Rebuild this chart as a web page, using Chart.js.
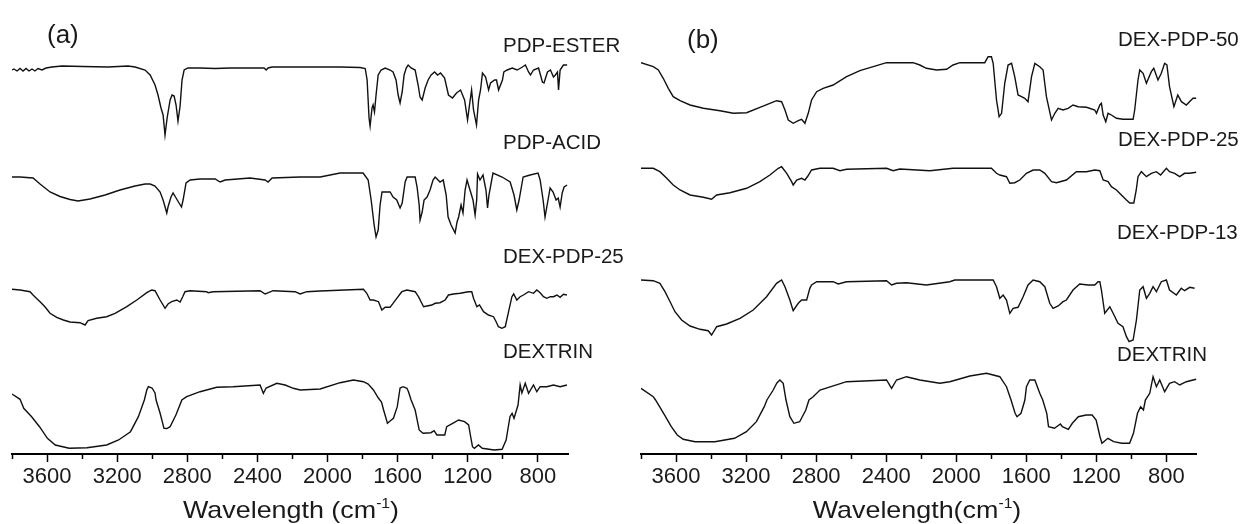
<!DOCTYPE html>
<html>
<head>
<meta charset="utf-8">
<script src="https://cdn.jsdelivr.net/npm/chart.js@4.4.1/dist/chart.umd.min.js"></script>
<style>
  html, body { margin:0; padding:0; background:#fff; }
  #page { position:relative; width:1243px; height:524px; overflow:hidden; font-family:"Liberation Sans", Arial, sans-serif; color:#1a1a1a; }
  .box { position:absolute; top:0; height:524px; }
  .lbl { position:absolute; font-size:20.5px; line-height:20px; white-space:nowrap; }
  .panel { position:absolute; font-size:26px; line-height:26px; }
  .xtitle { position:absolute; top:498px; font-size:24px; line-height:24px; white-space:nowrap; transform:translateX(-50%) scaleX(1.12); }
  .xtitle span { font-size:14px; position:relative; top:-10px; }
</style>
</head>
<body>
<div id="page">
  <div class="box" id="boxA" style="left:0;width:620px"><canvas id="graphA"></canvas></div>
  <div class="box" id="boxB" style="left:629px;width:614px"><canvas id="graphB"></canvas></div>

  <div class="panel" style="left:47px;top:21px">(a)</div>
  <div class="panel" style="left:687px;top:26px">(b)</div>

  <div class="lbl" style="left:503px;top:35px">PDP-ESTER</div>
  <div class="lbl" style="left:503px;top:132px">PDP-ACID</div>
  <div class="lbl" style="left:503px;top:246px">DEX-PDP-25</div>
  <div class="lbl" style="left:503px;top:341px">DEXTRIN</div>

  <div class="lbl" style="left:1118px;top:29px">DEX-PDP-50</div>
  <div class="lbl" style="left:1118px;top:129px">DEX-PDP-25</div>
  <div class="lbl" style="left:1117px;top:222px">DEX-PDP-13</div>
  <div class="lbl" style="left:1117px;top:344px">DEXTRIN</div>

  <div class="xtitle" style="left:291px">Wavelength (cm<span>-1</span>)</div>
  <div class="xtitle" style="left:917px">Wavelength(cm<span>-1</span>)</div>
</div>
<script>
// wavenumber (cm-1), transmittance (a.u., offset spectra)
const pdpEster = [[3800,384],[3789,385],[3771,383],[3754,385.5],[3737,383],[3720,385.5],[3703,383],[3686,385],[3669,383],[3652,385.5],[3629,384],[3606,386],[3572,387],[3515,388],[3395,387.5],[3252,387],[3138,388],[3098,387],[3041,384],[3012,379],[2984,369],[2967,359],[2950,346],[2938,339],[2927,319],[2915,336],[2898,354],[2887,359],[2875,358],[2864,349],[2853,333],[2841,348],[2830,374],[2818,384],[2796,386],[2727,386],[2641,385.5],[2556,386],[2362,386],[2350,384],[2339,386],[2316,387],[2156,387],[1928,387],[1814,386.5],[1785,385.5],[1774,374],[1763,336],[1757,328],[1746,346],[1740,349],[1732,342],[1723,359],[1711,379],[1694,384],[1671,386],[1643,384],[1626,382],[1609,374],[1597,359],[1586,351],[1574,362],[1563,379],[1551,386],[1540,389],[1523,386],[1500,384],[1483,369],[1472,357],[1460,354],[1443,366],[1426,374],[1409,379],[1389,382],[1372,379],[1355,381],[1332,376],[1310,359],[1287,356],[1264,361],[1241,364],[1218,354],[1201,334],[1190,349],[1178,364],[1167,344],[1150,329],[1138,354],[1127,364],[1116,381],[1098,377],[1081,364],[1070,371],[1047,374],[1036,374],[1024,364],[1002,374],[994,382],[975,384],[946,386],[918,384],[888,387],[871,389],[853,382],[842,379],[825,384],[796,386],[785,379],[774,372],[765,371],[745,382],[728,384],[711,377],[700,379],[688,382],[682,364],[673,384],[654,389],[633,389]];

const pdpAcid = [[3800,277],[3754,277],[3680,276],[3640,270],[3583,262],[3526,257.5],[3469,254.5],[3423,253],[3355,255],[3269,259],[3184,264],[3098,268],[3041,270],[3012,270],[2984,268],[2955,262],[2938,254],[2917,241],[2910,247],[2893,257],[2881,261],[2864,256],[2847,251],[2833,247],[2824,254],[2807,271],[2784,274],[2727,275],[2641,275],[2613,272],[2584,274],[2442,276],[2356,274],[2339,272],[2316,276],[2156,277],[2042,277],[1928,281],[1797,281],[1768,274],[1751,254],[1734,229],[1723,217],[1711,224],[1700,249],[1689,262],[1643,262],[1626,257],[1605,254],[1586,246],[1574,251],[1557,272],[1546,277],[1500,277],[1489,267],[1477,249],[1472,234],[1460,242],[1449,254],[1432,257],[1415,264],[1398,274],[1386,277],[1358,272],[1340,274],[1323,259],[1312,237],[1295,229],[1272,221],[1261,232],[1252,237],[1238,249],[1227,241],[1215,264],[1204,274],[1187,264],[1170,254],[1158,239],[1149,254],[1144,280],[1130,274],[1113,279],[1096,264],[1087,246],[1079,259],[1056,281],[1004,277],[958,272],[936,259],[920,244],[907,254],[884,277],[844,279],[799,281],[787,274],[770,254],[759,237],[747,249],[730,266],[713,262],[696,254],[684,256],[673,247],[661,261],[650,267],[633,269]];

const dexPdp25a = [[3800,164.7],[3754,164],[3697,162.3],[3680,159],[3640,152.3],[3612,147.3],[3583,140.7],[3545,136.7],[3507,134],[3469,132],[3412,131.3],[3383,129],[3366,133.3],[3317,135.7],[3260,137.3],[3212,140.7],[3145,147.3],[3088,154],[3031,161.3],[3003,164],[2984,163.3],[2955,154],[2927,145.7],[2910,150],[2889,152.3],[2860,154],[2841,152],[2826,157.3],[2813,162.3],[2784,163.3],[2689,162.3],[2681,161.3],[2653,162.3],[2385,163.3],[2356,160],[2337,161.3],[2310,163.3],[2185,162.3],[2156,160],[2118,162.3],[2042,163],[1795,164.7],[1776,160.7],[1757,154],[1738,154],[1709,152.3],[1690,144],[1671,146.7],[1643,146.7],[1605,155.7],[1576,162.3],[1547,164],[1500,162.3],[1481,157.3],[1462,150.7],[1452,147.3],[1433,148],[1405,149],[1386,150.7],[1358,151.3],[1329,154],[1310,159],[1281,160],[1243,160.7],[1196,162.3],[1177,162.3],[1167,155.7],[1148,147.3],[1133,149],[1110,142.3],[1082,139],[1053,137.3],[1038,132.3],[1025,127.3],[1005,125.7],[986,127.3],[967,142.3],[948,157.3],[938,160],[920,154],[901,157.3],[882,159],[853,162.3],[825,160.7],[806,164],[787,161.3],[768,157.3],[749,155.7],[729,157.3],[711,157.3],[691,159],[673,156.7],[654,159.7],[634,159]];

const dextrinA = [[3800,60],[3754,54.7],[3733,45.7],[3688,37.3],[3643,27.3],[3598,15.7],[3553,9],[3474,5.7],[3372,6.3],[3260,9],[3192,14],[3124,22.3],[3079,37.3],[3045,54],[3031,64],[3022,67.3],[3001,66],[2984,61],[2978,54],[2955,40.7],[2933,25.7],[2916,25.5],[2898,27.3],[2865,39],[2831,54],[2803,57.3],[2727,62.3],[2632,66.7],[2539,67.3],[2385,69],[2366,60.7],[2350,66],[2289,70.7],[2242,69],[2195,65.7],[2156,64],[2042,65],[1928,71.3],[1852,74],[1795,72.3],[1768,70],[1738,64],[1710,56],[1692,52],[1680,44],[1658,30.7],[1643,33],[1624,35.7],[1602,47.3],[1586,66],[1569,67.3],[1547,65.7],[1538,62.3],[1523,54],[1500,44],[1477,24],[1455,20.7],[1410,21.3],[1392,23.3],[1376,19],[1331,19],[1320,27.3],[1286,30.7],[1252,34],[1218,32.3],[1195,29],[1183,17],[1173,7.3],[1162,5.7],[1139,9],[1117,5.7],[1049,4],[1004,4.7],[981,14],[959,37.3],[947,40.7],[936,35.7],[913,49],[901,69],[891,61],[872,70.7],[853,60.7],[825,69],[806,62.3],[787,67.3],[749,67.3],[711,69],[673,67.3],[634,69]];

const dexPdp50 = [[3800,391.3],[3730,387.3],[3701,384],[3673,375.7],[3644,365.7],[3616,357.3],[3577,353.3],[3520,349],[3444,345.7],[3349,343.3],[3273,340.7],[3197,341.3],[3121,346.7],[3064,350.7],[3026,353.3],[2997,352.3],[2978,344],[2959,334],[2931,330.7],[2902,333.3],[2883,334.7],[2864,330.7],[2845,340.7],[2826,354],[2797,362.3],[2760,365.7],[2703,369],[2626,377.3],[2550,383.3],[2474,387.3],[2398,391.3],[2246,391.3],[2208,389],[2170,385.7],[2112,384],[2055,384.7],[2018,389],[1979,391.3],[1837,391.3],[1818,397.3],[1799,397.3],[1789,390.7],[1770,354],[1755,337.3],[1741,340.7],[1723,370.7],[1704,389],[1684,390.7],[1666,377.3],[1647,359],[1627,357.3],[1609,355.7],[1590,352.3],[1570,377.3],[1551,390.7],[1523,387.3],[1504,384],[1485,357.3],[1456,334],[1437,340.7],[1418,345.7],[1390,344],[1361,345.7],[1333,349],[1304,347.3],[1256,346.7],[1209,344],[1199,340.7],[1180,349],[1171,350.7],[1161,339],[1146,332.3],[1133,340.7],[1114,339],[1085,335.7],[1048,334.7],[990,334.7],[981,344],[962,374],[952,384],[933,380.7],[914,370.7],[886,382.3],[872,385.7],[848,374],[829,380.7],[810,390.7],[797,389],[782,367.3],[757,347.3],[735,359],[714,352.3],[686,349],[668,352.3],[648,355.7],[629,355.7]];

const dexPdp25b = [[3800,285.7],[3730,285.7],[3692,282.3],[3653,275.7],[3616,269],[3577,264],[3520,259],[3444,256.7],[3397,254.7],[3368,259],[3292,261.3],[3197,265.7],[3121,272.3],[3064,279],[3016,285.7],[2997,287.3],[2968,280.7],[2940,272.3],[2931,269],[2911,274],[2883,275.7],[2864,274],[2847,278],[2826,284],[2778,285.7],[2703,285.7],[2664,283.3],[2626,284.7],[2398,285.7],[2360,283.3],[2322,285],[2151,283.3],[2018,285.7],[1799,285.7],[1770,280.7],[1751,279],[1713,277.3],[1694,270.7],[1666,271.3],[1637,274],[1599,280.7],[1561,284],[1523,284],[1494,280.7],[1456,272.3],[1428,271.3],[1371,274],[1314,282.3],[1256,282.3],[1209,284],[1180,283.3],[1161,274],[1133,272.3],[1114,267.3],[1085,264],[1057,259],[1028,254],[1009,251],[986,251],[972,264],[962,277.3],[943,282.3],[914,277.3],[886,280.7],[857,282.3],[833,279],[800,285.7],[782,282.3],[753,280.7],[724,277.3],[696,280.7],[667,280.7],[629,281.7]];

const dexPdp13 = [[3800,174],[3730,173.3],[3692,170.7],[3663,162.3],[3634,152.3],[3606,142.3],[3568,134],[3520,128],[3463,124.7],[3416,123.3],[3397,119],[3368,127.3],[3311,130],[3235,135.7],[3159,144],[3083,157.3],[3026,170.7],[2997,174],[2978,167.3],[2950,154],[2931,143.3],[2902,150.7],[2883,154],[2854,154],[2836,165.7],[2826,169],[2797,172.3],[2703,172.3],[2674,170],[2626,172.3],[2398,173.3],[2369,169],[2341,170.7],[2284,171.3],[2170,169],[2037,172.3],[2008,174],[1789,174],[1770,167.3],[1751,155.7],[1732,159],[1713,154],[1694,140.7],[1675,145.7],[1647,146.7],[1618,157.3],[1590,169],[1561,174],[1523,172.3],[1494,167.3],[1466,150.7],[1447,145.7],[1418,148],[1390,152.3],[1371,154],[1333,164],[1295,170],[1247,169],[1209,169],[1190,172.3],[1180,172.3],[1171,164],[1152,140.7],[1123,147.3],[1104,140.7],[1076,130.7],[1048,127.3],[1028,117.3],[1013,112.3],[990,114],[971,134],[952,164],[933,167.3],[914,155.7],[895,160.7],[876,167.3],[857,162.3],[829,172.3],[800,174],[782,164],[743,159],[715,165.7],[696,163.3],[667,166.7],[639,165.7]];

const dextrinB = [[3800,65.7],[3730,57.3],[3717,54],[3694,47.3],[3660,37.3],[3627,27.3],[3593,19],[3559,14.7],[3491,12.3],[3378,12.3],[3266,15.7],[3198,22.3],[3141,32.3],[3096,47.3],[3081,54],[3045,64],[3024,71],[3007,74],[2988,70.7],[2972,54],[2950,37.3],[2927,30.7],[2894,32.3],[2859,44],[2841,54],[2817,57.3],[2778,64],[2626,72.3],[2398,74],[2369,65.7],[2341,74],[2284,77.3],[2208,74],[2094,70.7],[2037,72.3],[1922,78],[1827,80.7],[1751,77.3],[1713,67.3],[1687,54],[1664,40.7],[1653,37.3],[1630,40.7],[1608,54],[1599,67.3],[1580,74],[1551,74],[1523,60.7],[1506,54],[1483,40.7],[1473,27.3],[1439,25.7],[1405,30],[1394,27.3],[1360,24.7],[1337,30.7],[1303,37.3],[1258,39],[1224,39],[1201,34],[1179,17.3],[1168,10.7],[1134,15.7],[1101,12.3],[1055,10.7],[1010,10.7],[988,20.7],[965,40.7],[947,47.3],[931,44],[920,54],[895,60.7],[876,77.3],[857,67.3],[838,74],[810,62.3],[782,70.7],[753,72.3],[724,69],[686,72.3],[648,74],[629,74.7]];

const tickValues = [3800,3600,3400,3200,3000,2800,2600,2400,2200,2000,1800,1600,1400,1200,1000,800];
const tickLabels = [3600,3200,2800,2400,2000,1600,1200,800];

const axisFont = { family: '"Liberation Sans", Arial, sans-serif', size: 22 };

function makePanel(canvas, spectra, padRight) {
  return new Chart(canvas, {
    type: 'line',
    data: {
      datasets: spectra.map(s => ({
        data: s.map(p => ({ x: p[0], y: p[1] })),
        borderColor: '#111',
        borderWidth: 1.4,
        pointRadius: 0,
        fill: false,
        tension: 0
      }))
    },
    options: {
      responsive: true,
      maintainAspectRatio: false,
      animation: false,
      layout: { padding: { left: 12, right: padRight, top: 0, bottom: 0 } },
      plugins: { legend: { display: false }, tooltip: { enabled: false } },
      scales: {
        x: {
          type: 'linear',
          reverse: true,
          min: 628,
          max: 3800,
          afterBuildTicks: s => { s.ticks = tickValues.map(v => ({ value: v })); },
          afterFit: s => { s.height = 70; },
          ticks: {
            autoSkip: false,
            maxRotation: 0,
            minRotation: 0,
            padding: 2,
            color: '#1a1a1a',
            font: axisFont,
            callback: v => tickLabels.includes(v) ? String(v) : ''
          },
          grid: {
            drawOnChartArea: false,
            drawTicks: true,
            tickLength: 8,
            tickWidth: 1.5,
            tickColor: '#000',
            tickBorderDash: ctx => (ctx.tick && tickLabels.includes(ctx.tick.value)) ? [] : [4, 20]
          },
          border: { display: true, color: '#000', width: 2 }
        },
        y: { display: false, min: 0, max: 454 }
      }
    }
  });
}

makePanel(document.getElementById('graphA'), [pdpEster, pdpAcid, dexPdp25a, dextrinA], 52);
makePanel(document.getElementById('graphB'), [dexPdp50, dexPdp25b, dexPdp13, dextrinB], 46.5);
</script>
</body>
</html>
